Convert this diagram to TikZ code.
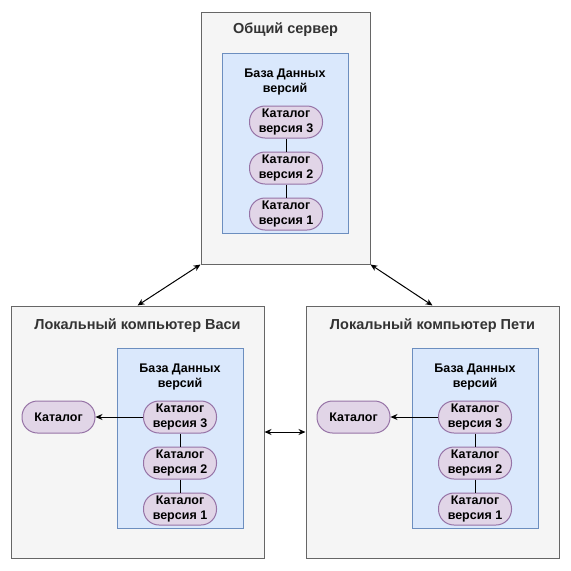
\documentclass[tikz,border=0pt]{standalone}
\usepackage{fontspec}
\setmainfont{Liberation Sans}
\usetikzlibrary{arrows.meta}
\definecolor{outerfill}{HTML}{F5F5F5}
\definecolor{outerdraw}{HTML}{666666}
\definecolor{titlecol}{HTML}{333333}
\definecolor{bluefill}{HTML}{DAE8FC}
\definecolor{bluedraw}{HTML}{6C8EBF}
\definecolor{purpfill}{HTML}{E1D5E7}
\definecolor{purpdraw}{HTML}{9673A6}
\tikzset{
  outer/.style={draw=outerdraw, fill=outerfill, line width=1pt, minimum width=169pt, minimum height=252pt, inner sep=0pt},
  outerwide/.style={outer, minimum width=253pt},
  dbbox/.style={draw=bluedraw, fill=bluefill, line width=1pt, minimum width=126pt, minimum height=180pt, inner sep=0pt},
  cat/.style={draw=purpdraw, fill=purpfill, line width=1pt, rounded corners=15.5pt, minimum width=73pt, minimum height=32pt, inner sep=0pt, align=center, font=\fontsize{12.5}{15}\selectfont\bfseries},
  ttl/.style={font=\fontsize{14.5}{17}\selectfont\bfseries, text=titlecol},
  dbttl/.style={font=\fontsize{12.5}{15}\selectfont\bfseries, align=center},
  link/.style={line width=1pt},
  arr/.style={line width=1pt, -{Stealth[length=7pt,width=6pt]}},
  darr/.style={line width=1pt, {Stealth[length=7pt,width=6pt]}-{Stealth[length=7pt,width=6pt]}}
}
\begin{document}
\begin{tikzpicture}[x=1pt,y=-1pt]
\useasboundingbox (0,0) rectangle (571,571);
% top server
\node[outer] (srv) at (285.5,138) {};
\node[ttl] (srvt) at (285.5,30) {Общий сервер};
\node[dbbox] (srvdb) at (285,143) {};
\node[dbttl] (srvdbt) at (285,82) {База Данных\\версий};
\node[cat] (s3) at (286,122) {Каталог\\версия 3};
\node[cat] (s2) at (286,168) {Каталог\\версия 2};
\node[cat] (s1) at (286,214) {Каталог\\версия 1};
\draw[link] (s3) -- (s2);
\draw[link] (s2) -- (s1);
% left local
\node[outerwide] (lv) at (137.5,432) {};
\node[ttl] (lvt) at (137.5,326) {Локальный компьютер Васи};
\node[dbbox] (lvdb) at (180,438) {};
\node[dbttl] (lvdbt) at (180,377) {База Данных\\версий};
\node[cat] (v3) at (180,417) {Каталог\\версия 3};
\node[cat] (v2) at (180,463) {Каталог\\версия 2};
\node[cat] (v1) at (180,509) {Каталог\\версия 1};
\node[cat] (vk) at (58.5,417) {Каталог};
\draw[link] (v3) -- (v2);
\draw[link] (v2) -- (v1);
\draw[arr] (v3) -- (vk);
% right local
\node[outerwide] (lp) at (432.5,432) {};
\node[ttl] (lpt) at (432.5,326) {Локальный компьютер Пети};
\node[dbbox] (lpdb) at (475,438) {};
\node[dbttl] (lpdbt) at (475,377) {База Данных\\версий};
\node[cat] (p3) at (475,417) {Каталог\\версия 3};
\node[cat] (p2) at (475,463) {Каталог\\версия 2};
\node[cat] (p1) at (475,509) {Каталог\\версия 1};
\node[cat] (pk) at (353.5,417) {Каталог};
\draw[link] (p3) -- (p2);
\draw[link] (p2) -- (p1);
\draw[arr] (p3) -- (pk);
% connectors
\draw[darr] (srv.south west) -- (lv.north);
\draw[darr] (srv.south east) -- (lp.north);
\draw[darr] (lv.east) -- (lp.west);
\end{tikzpicture}
\end{document}
